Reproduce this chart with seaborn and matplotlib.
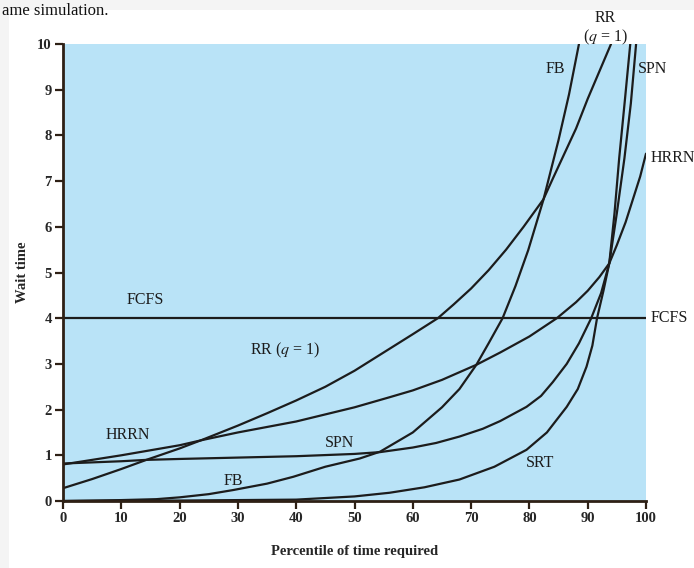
import pandas as pd
import matplotlib.pyplot as plt
import seaborn as sns
from matplotlib.patches import Rectangle

# Values (percentile -> wait time)
fcfs_x = [0, 100]
fcfs_y = [4, 4]

rr_x = [0, 5, 10, 14.3, 20, 24.1, 30, 35, 40, 45, 50, 55, 60, 64.3, 67, 70, 73, 76, 79, 82.4, 84, 86, 88, 90, 92, 94]
rr_y = [0.28, 0.48, 0.7, 0.9, 1.15, 1.35, 1.65, 1.92, 2.2, 2.5, 2.85, 3.25, 3.65, 4.0, 4.3, 4.65, 5.05, 5.5, 6.0, 6.6, 7.05, 7.6, 8.15, 8.8, 9.4, 10]

hrrn_x = [0, 10, 20, 24.1, 30, 40, 50, 56, 60, 65, 70.9, 75, 80, 84.7, 88, 90, 92, 93.7, 95, 96.5, 98, 99, 100]
hrrn_y = [0.8, 1.0, 1.22, 1.34, 1.5, 1.74, 2.05, 2.27, 2.42, 2.65, 2.98, 3.25, 3.6, 4.0, 4.35, 4.6, 4.9, 5.2, 5.6, 6.1, 6.7, 7.1, 7.6]

spn_x = [0, 10, 14.3, 20, 30, 40, 50, 54.4, 60, 64, 68, 72, 75, 79.5, 82, 84, 86.4, 88.5, 90.6, 92.3, 93.7, 95, 96.3, 97.4, 98.3]
spn_y = [0.82, 0.87, 0.9, 0.92, 0.95, 0.98, 1.03, 1.07, 1.17, 1.27, 1.41, 1.58, 1.75, 2.06, 2.3, 2.6, 3.0, 3.45, 4.0, 4.55, 5.2, 6.3, 7.5, 8.7, 10]

srt_x = [0, 20, 30, 40, 50, 56, 62, 68, 74, 79.5, 83, 86.4, 88.3, 89.8, 90.8, 91.6, 92.7, 93.7, 94.6, 95.4, 96.4, 97.3]
srt_y = [0.0, 0.01, 0.02, 0.03, 0.1, 0.18, 0.3, 0.47, 0.75, 1.12, 1.5, 2.06, 2.45, 2.94, 3.4, 4.0, 4.6, 5.2, 6.3, 7.5, 8.8, 10]

fb_x = [0, 10, 16, 20, 25, 29.2, 35, 39.5, 45, 50.9, 54.4, 60, 65, 68, 70.9, 73, 75.4, 77.6, 79.8, 82.4, 85, 86.8, 88.5]
fb_y = [0.0, 0.02, 0.04, 0.08, 0.15, 0.24, 0.38, 0.53, 0.75, 0.93, 1.08, 1.5, 2.05, 2.45, 2.98, 3.45, 4.0, 4.7, 5.49, 6.59, 7.9, 8.9, 10]

series = {
    'FCFS': (fcfs_x, fcfs_y),
    'RR': (rr_x, rr_y),
    'HRRN': (hrrn_x, hrrn_y),
    'SPN': (spn_x, spn_y),
    'SRT': (srt_x, srt_y),
    'FB': (fb_x, fb_y),
}

frames = []
for name, (xs, ys) in series.items():
    frames.append(pd.DataFrame({'percentile': xs, 'wait': ys, 'policy': name}))
df = pd.concat(frames, ignore_index=True)

sns.set_style('ticks')
plt.rcParams['font.family'] = ['Liberation Serif', 'DejaVu Serif']
plt.rcParams['mathtext.fontset'] = 'stix'

fig = plt.figure(figsize=(6.94, 5.68), dpi=100, facecolor='white')

# page remnants: light grey strip on top and left, caption text from the page
fig.patches.append(Rectangle((0, 1 - 10 / 568), 1, 10 / 568, transform=fig.transFigure,
                             facecolor='#f4f4f4', edgecolor='none', zorder=0))
fig.patches.append(Rectangle((0, 0), 9 / 694, 1, transform=fig.transFigure,
                             facecolor='#f4f4f4', edgecolor='none', zorder=0))
fig.text(2 / 694, 1 - 15 / 568, 'ame simulation.', fontsize=12, va='baseline',
         ha='left', color='#111111')

ax = fig.add_axes([63 / 694, 67 / 568, 583 / 694, 457 / 568])
ax.set_facecolor('#b9e3f7')

palette = {name: '#1c1c1c' for name in series}
sns.lineplot(data=df, x='percentile', y='wait', hue='policy', units='policy',
             estimator=None, sort=False, palette=palette, legend=False,
             linewidth=1.6, ax=ax)

ax.set_xlim(0, 100)
ax.set_ylim(0, 10)
ax.set_xticks(range(0, 101, 10))
ax.set_yticks(range(0, 11))
sns.despine(ax=ax)
for side in ['left', 'bottom']:
    ax.spines[side].set_color('#2e2015')
    ax.spines[side].set_linewidth(2)
ax.tick_params(axis='both', length=6, width=1.6, color='#2e2015',
               labelsize=10.5, pad=2)
for lab in ax.get_xticklabels() + ax.get_yticklabels():
    lab.set_fontweight('bold')

ax.set_xlabel('Percentile of time required', fontsize=10.5, fontweight='bold', labelpad=14)
ax.set_ylabel('Wait time', fontsize=10.5, fontweight='bold', labelpad=6)

# curve labels
lab_kw = dict(fontsize=11.5, ha='center', va='center', color='#1c1c1c', clip_on=False)
ax.text(14.1, 4.4, 'FCFS', **lab_kw)
ax.text(104.0, 4.0, 'FCFS', **lab_kw)
ax.text(38.1, 3.3, 'RR ($q$ = 1)', **lab_kw)
ax.text(11.1, 1.44, 'HRRN', **lab_kw)
ax.text(47.5, 1.27, 'SPN', **lab_kw)
ax.text(29.2, 0.44, 'FB', **lab_kw)
ax.text(81.8, 0.83, 'SRT', **lab_kw)
ax.text(84.4, 9.45, 'FB', **lab_kw)
ax.text(101.2, 9.45, 'SPN', **lab_kw)
ax.text(104.6, 7.5, 'HRRN', **lab_kw)
ax.text(93.0, 10.57, 'RR', **lab_kw)
ax.text(93.0, 10.15, '($q$ = 1)', **lab_kw)

fig.savefig('out.png', dpi=100, facecolor=fig.get_facecolor())
